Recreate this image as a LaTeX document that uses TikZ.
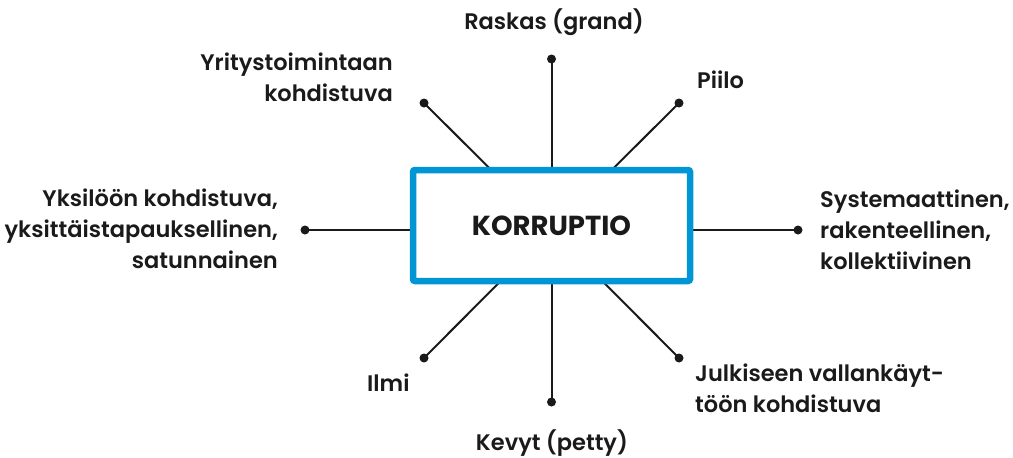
\documentclass[tikz,border=0pt]{standalone}
\usepackage{fontspec}
\setmainfont{Poppins}
\newfontfamily\lblfont{Poppins SemiBold}
\usepackage{xcolor}
\usepackage{tikz}
\usetikzlibrary{positioning,calc}

\definecolor{boxblue}{RGB}{0,150,214}
\definecolor{inkblack}{RGB}{26,26,26}

\begin{document}
\begin{tikzpicture}[
    x=1pt, y=-1pt,
    mainbox/.style={rectangle, draw=boxblue, line width=6.5pt, fill=white,
                    rounded corners=2pt, minimum width=277pt, minimum height=111pt,
                    inner sep=0pt, font=\bfseries\fontsize{27.5}{30}\selectfont,
                    text=inkblack},
    enddot/.style={circle, fill=inkblack, inner sep=0pt, minimum size=9pt},
    lbl/.style={font=\lblfont\fontsize{22.5}{31}\selectfont, text=inkblack,
                inner sep=0pt},
    spoke/.style={line width=2pt, inkblack},
  ]
  \useasboundingbox (0,0) rectangle (1013,458);

  % === Hub and end dots ===
  \coordinate (hub) at (551.5, 230);
  \node[enddot] (dN)  at (551.5, 59)  {};
  \node[enddot] (dS)  at (551.5, 402) {};
  \node[enddot] (dW)  at (305, 230)   {};
  \node[enddot] (dE)  at (798, 230)   {};
  \node[enddot] (dNW) at (424, 103)   {};
  \node[enddot] (dNE) at (679, 103)   {};
  \node[enddot] (dSW) at (424, 358)   {};
  \node[enddot] (dSE) at (679, 358)   {};

  % Spokes (run under the box)
  \foreach \d in {dN,dS,dW,dE,dNW,dNE,dSW,dSE}
    \draw[spoke] (hub) -- (\d.center);

  % === Box ===
  \node[mainbox] (kor) at (551.5, 225.5) {KORRUPTIO};

  % === Labels ===
  \node[lbl] (raskas) at (554, 22) {Raskas (grand)};
  \node[lbl, anchor=east, align=right] (yritys) at (393, 77)
    {Yritystoimintaan\\kohdistuva};
  \node[lbl, anchor=west] (piilo) at (697, 80) {Piilo};
  \node[lbl, anchor=east, align=right] (yksilo) at (278, 229)
    {Yksilöön kohdistuva,\\yksittäistapauksellinen,\\satunnainen};
  \node[lbl, anchor=west, align=left] (system) at (820, 230)
    {Systemaattinen,\\rakenteellinen,\\kollektiivinen};
  \node[lbl, anchor=west, align=left] (julki) at (695, 388)
    {Julkiseen vallankäyt-\\töön kohdistuva};
  \node[lbl, anchor=west] (ilmi) at (367, 383) {Ilmi};
  \node[lbl] (kevyt) at (552, 443) {Kevyt (petty)};

\end{tikzpicture}
\end{document}
